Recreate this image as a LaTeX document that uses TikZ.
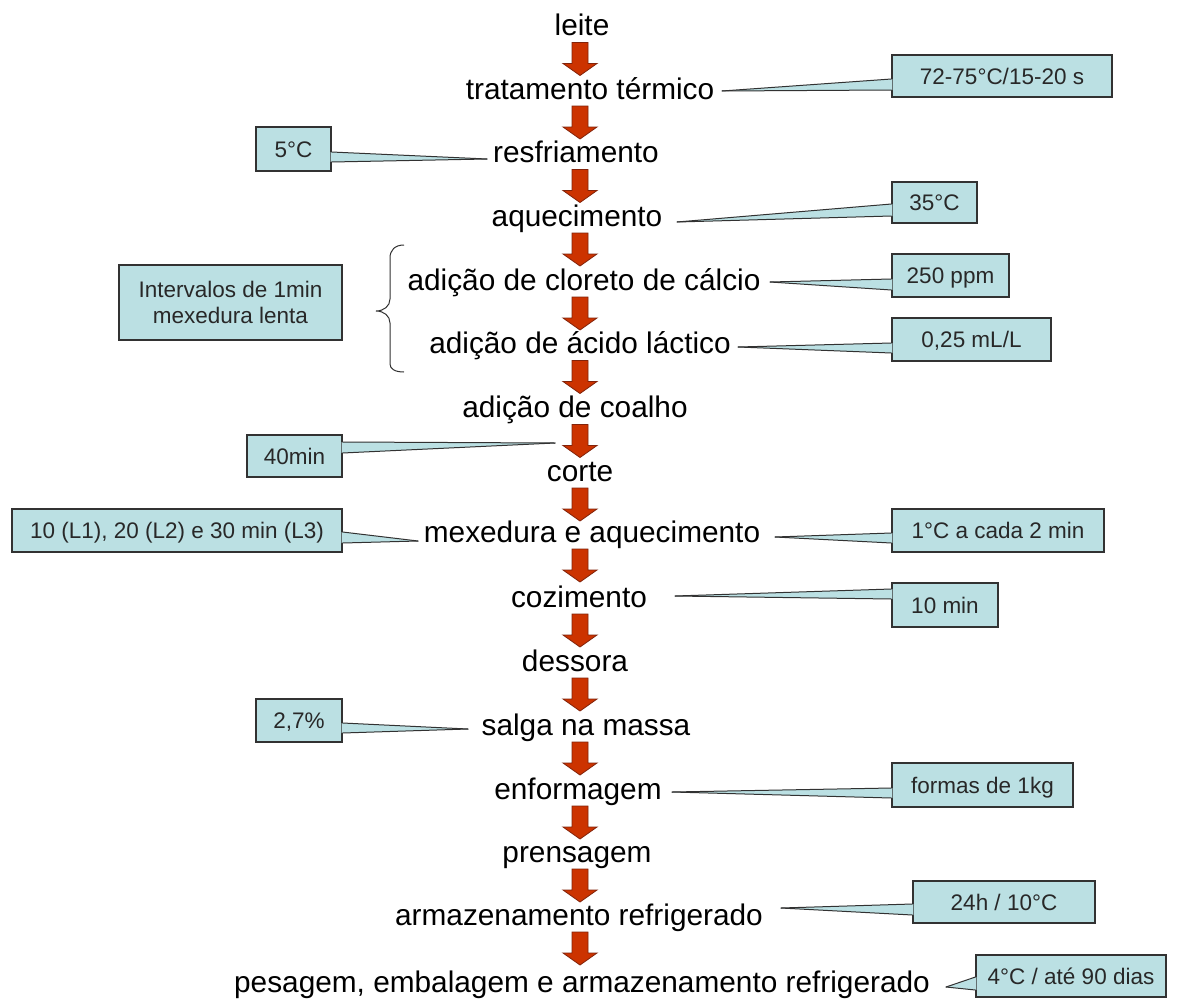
\documentclass[tikz,border=0pt]{standalone}
\usepackage{fontspec}
\setmainfont{Liberation Sans}
\usetikzlibrary{calc}
\definecolor{calloutfill}{RGB}{187,224,227}
\definecolor{calloutline}{RGB}{50,50,50}
\definecolor{arrowfill}{RGB}{204,51,0}
\definecolor{arrowline}{RGB}{130,35,10}
\definecolor{notetext}{RGB}{40,40,40}
\tikzset{
  lab/.style={font=\fontsize{29.8}{34}\selectfont, inner sep=0pt, anchor=base},
  note/.style={rectangle, draw=calloutline, fill=calloutfill, line width=1.1pt,
    font=\fontsize{22.5}{27}\selectfont, text=notetext, inner sep=0pt,
    text height=16.1pt, text depth=0pt},
  plainbox/.style={rectangle, draw=calloutline, fill=calloutfill, line width=1.1pt,
    font=\fontsize{22.5}{26}\selectfont, text=notetext, inner sep=0pt, align=center},
  wedgeline/.style={draw=calloutline, line width=1pt, line cap=round},
  bracestyle/.style={draw=calloutline, line width=1pt},
  pics/downarr/.style={code={
    \filldraw[fill=arrowfill, draw=arrowline, line width=0.8pt]
      (-8,0) -- (8,0) -- (8,21) -- (17,21) -- (0,33) -- (-17,21) -- (-8,21) -- cycle;}}
}
% #1 side anchor of the box, #2 #3 base y values, #4 tip coordinate, #5 inward shift
\newcommand{\cwedge}[5]{%
  \fill[calloutfill] ($(#1 |- 0,#2)+(#5,0)$) -- (#4) -- ($(#1 |- 0,#3)+(#5,0)$) -- cycle;
  \draw[wedgeline] (#1 |- 0,#2) -- (#4);
  \draw[wedgeline] (#1 |- 0,#3) -- (#4);
}
\begin{document}
\begin{tikzpicture}[x=1pt,y=-1pt]
\fill[white] (0,0) rectangle (1193,998);
\useasboundingbox (0,0) rectangle (1193,998);

% flow steps
\node[lab] (t0)  at (582,35.5) {leite};
\node[lab] (t1)  at (590,99)   {tratamento térmico};
\node[lab] (t2)  at (576,162.5){resfriamento};
\node[lab] (t3)  at (577,226)  {aquecimento};
\node[lab] (t4)  at (584,290)  {adição de cloreto de cálcio};
\node[lab] (t5)  at (580,353.5){adição de ácido láctico};
\node[lab] (t6)  at (575,417.5){adição de coalho};
\node[lab] (t7)  at (580,481)  {corte};
\node[lab] (t8)  at (592,542)  {mexedura e aquecimento};
\node[lab] (t9)  at (579,607)  {cozimento};
\node[lab] (t10) at (575,671)  {dessora};
\node[lab] (t11) at (586,735)  {salga na massa};
\node[lab] (t12) at (578,799)  {enformagem};
\node[lab] (t13) at (577,862)  {prensagem};
\node[lab] (t14) at (579,925)  {armazenamento refrigerado};
\node[lab] (t15) at (582,992)  {pesagem, embalagem e armazenamento refrigerado};

% block arrows between steps
\coordinate (col) at (580,0);
\foreach \i in {0,...,14}{
  \pic at ([yshift=-7pt]col |- t\i.base) {downarr};
}

% pointer targets
\coordinate (p1)  at (722,91);
\coordinate (p2)  at (487,159);
\coordinate (p3)  at (677,222);
\coordinate (p4)  at (770,282);
\coordinate (p5)  at (738,347);
\coordinate (p7)  at (555,443);
\coordinate (p8)  at (418,541);
\coordinate (p9)  at (775,537);
\coordinate (p10) at (675,596);
\coordinate (p11) at (468,729);
\coordinate (p12) at (672,792);
\coordinate (p13) at (781,908);
\coordinate (p14) at (946,987);

% callout boxes
\node[note, minimum width=220pt, minimum height=42pt] (c1) at (1002,76) {72-75°C/15-20 s};
\node[note, minimum width=75pt, minimum height=44pt] (c2) at (293.5,149) {5°C};
\node[note, minimum width=85pt, minimum height=41pt] (c3) at (934.5,202.5) {35°C};
\node[note, minimum width=117pt, minimum height=43pt] (c4) at (950.5,275.5) {250 ppm};
\node[note, minimum width=159pt, minimum height=43pt] (c5) at (971.5,339.5) {0,25 mL/L};
\node[note, minimum width=95pt, minimum height=42pt] (c7) at (294.5,456) {40min};
\node[note, minimum width=330pt, minimum height=43pt] (c8) at (177,530.5) {10 (L1), 20 (L2) e 30 min (L3)};
\node[note, minimum width=212pt, minimum height=43pt] (c9) at (998,530.5) {1°C a cada 2 min};
\node[note, minimum width=106pt, minimum height=44pt] (c10) at (945,605) {10 min};
\node[note, minimum width=86pt, minimum height=43pt] (c11) at (299,720.5) {2,7\%};
\node[note, minimum width=181pt, minimum height=44pt] (c12) at (982.5,785) {formas de 1kg};
\node[note, minimum width=182pt, minimum height=42pt] (c13) at (1004,902) {24h / 10°C};
\node[note, minimum width=190pt, minimum height=42pt] (c14) at (1071,976) {4°C / até 90 dias};

% callout pointers
\cwedge{c1.west}{79}{90}{p1}{1}
\cwedge{c2.east}{152}{162}{p2}{-1}
\cwedge{c3.west}{204}{216}{p3}{1}
\cwedge{c4.west}{279}{290}{p4}{1}
\cwedge{c5.west}{343}{353}{p5}{1}
\cwedge{c7.east}{442}{453}{p7}{-1}
\cwedge{c8.east}{532}{543}{p8}{-1}
\cwedge{c9.west}{533}{543}{p9}{1}
\cwedge{c10.west}{589}{599}{p10}{1}
\cwedge{c11.east}{723}{733}{p11}{-1}
\cwedge{c12.west}{788}{798}{p12}{1}
\cwedge{c13.west}{904}{915}{p13}{1}
\cwedge{c14.west}{977}{990}{p14}{1}

% grouped note with brace
\node[plainbox, minimum width=223pt, minimum height=75pt] (c6) at (230.5,302.5) {Intervalos de 1min\\mexedura lenta};
\draw[bracestyle] (404,245) .. controls (395,245) and (390,250) .. (390,258)
  -- (390,299) .. controls (390,306) and (384,311) .. (376,311)
  .. controls (384,311) and (390,316) .. (390,323)
  -- (390,364) .. controls (390,369) and (395,372) .. (404,372);
\end{tikzpicture}
\end{document}
